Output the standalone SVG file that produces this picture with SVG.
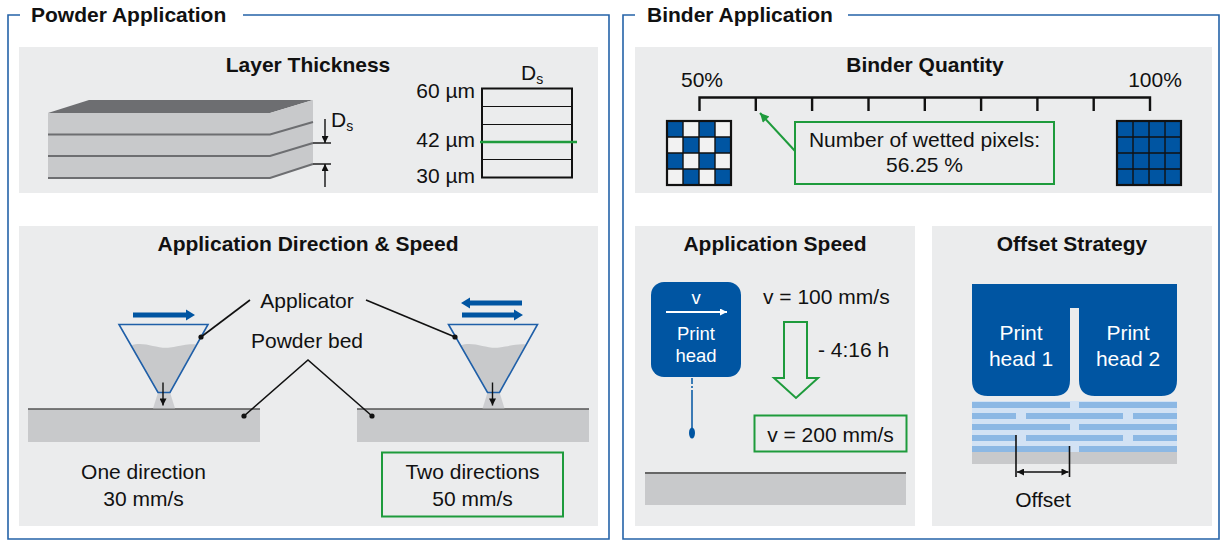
<svg xmlns="http://www.w3.org/2000/svg" width="1223" height="541" viewBox="0 0 1223 541">
  <style>
    text { font-family: "Liberation Sans", Arial, sans-serif; fill: #111; }
    .frame { fill: none; stroke: #2563a8; stroke-width: 1.6; }
    .ftitle { font-size: 21px; font-weight: bold; }
    .ptitle { font-size: 21px; font-weight: bold; text-anchor: middle; }
    .body { font-size: 21px; }
    .mid { text-anchor: middle; }
    .end { text-anchor: end; }
    .panel { fill: #ebeced; }
    .bed { fill: #c8c9cb; }
    .bedline { stroke: #555; stroke-width: 1.6; }
    .green { fill: none; stroke: #1e9b3c; stroke-width: 2; }
    .blue { fill: #0055a2; }
    .leader { stroke: #111; stroke-width: 1.6; fill: none; }
    .dot { fill: #111; }
    .hopper { fill: none; stroke: #1f5fa8; stroke-width: 1.6; }
    .powder { fill: #c8c9cb; }
    .wtext { fill: #fff; text-anchor: middle; }
    .grid { fill: none; stroke: #111; stroke-width: 1.4; }
    .stripe { fill: #8cb8e4; }
  </style>
  <defs>
    <marker id="ah" viewBox="0 0 10 10" refX="10" refY="5" markerWidth="10" markerHeight="7" orient="auto-start-reverse" markerUnits="userSpaceOnUse">
      <path d="M0,0 L10,5 L0,10 z" fill="#111"/>
    </marker>
    <marker id="ahw" viewBox="0 0 10 10" refX="10" refY="5" markerWidth="8" markerHeight="7" orient="auto" markerUnits="userSpaceOnUse">
      <path d="M0,0 L10,5 L0,10 z" fill="#fff"/>
    </marker>
    <marker id="ahg" viewBox="0 0 10 10" refX="10" refY="5" markerWidth="11" markerHeight="9" orient="auto" markerUnits="userSpaceOnUse">
      <path d="M0,0 L10,5 L0,10 z" fill="#1e9b3c"/>
    </marker>
    <!-- hopper with powder, drawn at the origin of its top-left corner -->
    <g id="hopper">
      <path class="powder" d="M12 21 C 25 16, 38 25, 51 23 S 70 19, 77 20 L 51 68 L 39 68 Z"/>
      <path d="M39 68 L 51 68 L 56 84 L 34 84 Z" fill="#c8c9cb" opacity="0.85"/>
      <path class="hopper" d="M0 0 H 89 L 51 68 H 39 Z"/>
      <line x1="44" y1="58" x2="44" y2="81" stroke="#111" stroke-width="1.4" marker-end="url(#ah)"/>
    </g>
  </defs>

  <!-- outer section frames -->
  <g id="powder-application">
    <path class="frame" d="M20 15 H 8 V 539 H 609 V 15 H 243"/>
    <text class="ftitle" x="31" y="22">Powder Application</text>
  </g>
  <g id="binder-application">
    <path class="frame" d="M635 15 H 623 V 539 H 1219 V 15 H 848"/>
    <text class="ftitle" x="647" y="22">Binder Application</text>
  </g>

  <!-- Layer Thickness -->
  <g id="layer-thickness">
    <rect class="panel" x="19" y="47" width="579" height="146"/>
    <text class="ptitle" x="308" y="72">Layer Thickness</text>
    <!-- layered block -->
    <path d="M48 113 L 89 100 H 313 L 270 113 Z" fill="#6d6e71"/>
    <rect x="48" y="113" width="222" height="65" fill="#c8c9cb"/>
    <path d="M270 113 L 313 100 V 164 L 270 178 Z" fill="#c8c9cb"/>
    <g stroke="#6d6e71" stroke-width="2" fill="none">
      <path d="M48 134.5 H 270 L 313 122"/>
      <path d="M48 156 H 270 L 313 143"/>
      <path d="M48 178 H 270 L 313 164"/>
    </g>
    <!-- thickness dimension -->
    <g stroke="#111" stroke-width="1.4">
      <line x1="313" y1="143" x2="331" y2="143"/>
      <line x1="313" y1="164" x2="331" y2="164"/>
      <line x1="325" y1="119" x2="325" y2="143" marker-end="url(#ah)"/>
      <line x1="325" y1="187" x2="325" y2="164" marker-end="url(#ah)"/>
    </g>
    <text class="body" x="331" y="127">D<tspan font-size="14" dy="4">s</tspan></text>
    <!-- thickness scale -->
    <rect x="482" y="88.5" width="90" height="89" fill="none" stroke="#111" stroke-width="2"/>
    <g stroke="#111" stroke-width="1.2">
      <line x1="482" y1="106.5" x2="572" y2="106.5"/>
      <line x1="482" y1="124.5" x2="572" y2="124.5"/>
      <line x1="482" y1="159.5" x2="572" y2="159.5"/>
    </g>
    <line x1="480" y1="142" x2="577" y2="142" stroke="#1e9b3c" stroke-width="2.5"/>
    <text class="body" x="521" y="80">D<tspan font-size="14" dy="4">s</tspan></text>
    <text class="body end" x="475" y="98">60 µm</text>
    <text class="body end" x="475" y="147">42 µm</text>
    <text class="body end" x="475" y="183">30 µm</text>
  </g>

  <!-- Application Direction & Speed -->
  <g id="direction-speed">
    <rect class="panel" x="19" y="226" width="579" height="300"/>
    <text class="ptitle" x="308" y="251">Application Direction &amp; Speed</text>
    <!-- powder beds -->
    <rect class="bed" x="28" y="409" width="232" height="33"/>
    <line class="bedline" x1="28" y1="409" x2="260" y2="409"/>
    <rect class="bed" x="357" y="409" width="232" height="33"/>
    <line class="bedline" x1="357" y1="409" x2="589" y2="409"/>
    <!-- applicators -->
    <use href="#hopper" x="119" y="324.5"/>
    <use href="#hopper" x="448.5" y="324.5"/>
    <!-- travel direction arrows -->
    <path class="blue" d="M133 312.5 H 186 V 309.5 L 195 315 L 186 320.5 V 317.5 H 133 Z"/>
    <path class="blue" d="M522 300.5 H 470 V 297.5 L 461 303 L 470 308.5 V 305.5 H 522 Z"/>
    <path class="blue" d="M462 312.5 H 514 V 309.5 L 523 315 L 514 320.5 V 317.5 H 462 Z"/>
    <!-- labels and leaders -->
    <text class="body mid" x="307" y="308">Applicator</text>
    <text class="body mid" x="307" y="348">Powder bed</text>
    <path class="leader" d="M250 300 L 201 337"/>
    <path class="leader" d="M366 300 L 455 337"/>
    <path class="leader" d="M244 416 L 308 360 L 372 416"/>
    <circle class="dot" cx="201" cy="337" r="2.6"/>
    <circle class="dot" cx="455" cy="337" r="2.6"/>
    <circle class="dot" cx="244" cy="416" r="2.6"/>
    <circle class="dot" cx="372" cy="416" r="2.6"/>
    <text class="body mid" x="143.5" y="479">One direction</text>
    <text class="body mid" x="143.5" y="506">30 mm/s</text>
    <rect class="green" x="382" y="452.5" width="181" height="64"/>
    <text class="body mid" x="472.5" y="479">Two directions</text>
    <text class="body mid" x="472.5" y="506">50 mm/s</text>
  </g>

  <!-- Binder Quantity -->
  <g id="binder-quantity">
    <rect class="panel" x="635" y="47" width="577" height="146"/>
    <text class="ptitle" x="925" y="72">Binder Quantity</text>
    <text class="body mid" x="702" y="87">50%</text>
    <text class="body mid" x="1155" y="87">100%</text>
    <g stroke="#111" stroke-width="2.4" fill="none">
      <path d="M699.5 111 V 97.5 H 1150 V 111"/>
      <path d="M755.8 97.5 V 111 M812.1 97.5 V 111 M868.5 97.5 V 111 M924.8 97.5 V 111 M981.1 97.5 V 111 M1037.4 97.5 V 111 M1093.7 97.5 V 111"/>
    </g>
    <!-- 50 % wetting pattern -->
    <rect x="667" y="121" width="64" height="64" fill="#f2f2f2"/>
    <g class="blue">
      <rect x="667" y="121" width="16" height="16"/>
      <rect x="699" y="121" width="16" height="16"/>
      <rect x="683" y="137" width="16" height="16"/>
      <rect x="715" y="137" width="16" height="16"/>
      <rect x="667" y="153" width="16" height="16"/>
      <rect x="699" y="153" width="16" height="16"/>
      <rect x="683" y="169" width="16" height="16"/>
      <rect x="715" y="169" width="16" height="16"/>
    </g>
    <path class="grid" d="M683 121 V 185 M699 121 V 185 M715 121 V 185 M667 137 H 731 M667 153 H 731 M667 169 H 731"/>
    <rect x="667" y="121" width="64" height="64" fill="none" stroke="#111" stroke-width="2.2"/>
    <!-- 100 % wetting pattern -->
    <rect class="blue" x="1117" y="121" width="64" height="64"/>
    <path class="grid" d="M1133 121 V 185 M1149 121 V 185 M1165 121 V 185 M1117 137 H 1181 M1117 153 H 1181 M1117 169 H 1181"/>
    <rect x="1117" y="121" width="64" height="64" fill="none" stroke="#111" stroke-width="2.2"/>
    <!-- callout -->
    <rect class="green" x="795" y="122" width="259" height="62" fill="#ebeced"/>
    <text class="body mid" x="924.5" y="147">Number of wetted pixels:</text>
    <text class="body mid" x="924.5" y="172">56.25 %</text>
    <line x1="795" y1="151" x2="760" y2="113" stroke="#1e9b3c" stroke-width="2" marker-end="url(#ahg)"/>
  </g>

  <!-- Application Speed -->
  <g id="application-speed">
    <rect class="panel" x="635" y="226" width="280" height="300"/>
    <text class="ptitle" x="775" y="251">Application Speed</text>
    <rect class="blue" x="651" y="282" width="90" height="95" rx="13"/>
    <text class="wtext" x="696" y="304" font-size="18.5">v</text>
    <line x1="666" y1="312" x2="727" y2="312" stroke="#fff" stroke-width="1.8" marker-end="url(#ahw)"/>
    <text class="wtext" x="696" y="340" font-size="18.5">Print</text>
    <text class="wtext" x="696" y="362" font-size="18.5">head</text>
    <line x1="692" y1="378" x2="692" y2="396" stroke="#0055a2" stroke-width="1.5" stroke-dasharray="6 2 2 2"/>
    <line x1="692" y1="396" x2="692" y2="428" stroke="#0055a2" stroke-width="1.5"/>
    <ellipse class="blue" cx="692" cy="433" rx="3" ry="5.5"/>
    <text class="body" x="763" y="304">v = 100 mm/s</text>
    <path class="green" d="M784 322 H 807 V 378 H 818 L 796 398 L 774 378 H 784 Z"/>
    <text class="body" x="818" y="357">- 4:16 h</text>
    <rect class="green" x="754.5" y="415.5" width="152" height="36"/>
    <text class="body mid" x="830.5" y="442">v = 200 mm/s</text>
    <rect class="bed" x="645" y="473" width="261" height="32"/>
    <line x1="645" y1="473" x2="906" y2="473" stroke="#666" stroke-width="2"/>
  </g>

  <!-- Offset Strategy -->
  <g id="offset-strategy">
    <rect class="panel" x="932" y="226" width="280" height="300"/>
    <text class="ptitle" x="1072" y="251">Offset Strategy</text>
    <path class="blue" d="M972 284 H 1177 V 380 Q 1177 396 1161 396 H 1095 Q 1079 396 1079 380 V 308 H 1070 V 380 Q 1070 396 1054 396 H 988 Q 972 396 972 380 Z"/>
    <text class="wtext" x="1021" y="340" font-size="21">Print</text>
    <text class="wtext" x="1021" y="366" font-size="21">head 1</text>
    <text class="wtext" x="1128" y="340" font-size="21">Print</text>
    <text class="wtext" x="1128" y="366" font-size="21">head 2</text>
    <!-- deposited binder lines -->
    <rect x="972" y="401" width="205" height="52" fill="#d2e2f4"/>
    <rect class="bed" x="972" y="452" width="205" height="12"/>
    <g class="stripe">
      <rect x="972" y="402" width="98" height="6"/>
      <rect x="1079" y="402" width="98" height="6"/>
      <rect x="972" y="413" width="44" height="6"/>
      <rect x="1026" y="413" width="97" height="6"/>
      <rect x="1133" y="413" width="44" height="6"/>
      <rect x="972" y="424" width="98" height="6"/>
      <rect x="1079" y="424" width="98" height="6"/>
      <rect x="972" y="435" width="44" height="6"/>
      <rect x="1026" y="435" width="97" height="6"/>
      <rect x="1133" y="435" width="44" height="6"/>
      <rect x="972" y="446" width="98" height="6"/>
      <rect x="1079" y="446" width="98" height="6"/>
    </g>
    <!-- offset dimension -->
    <g stroke="#111" stroke-width="1.6">
      <line x1="1016" y1="435" x2="1016" y2="477"/>
      <line x1="1069.5" y1="446" x2="1069.5" y2="477"/>
      <line x1="1017" y1="472" x2="1068.5" y2="472" marker-start="url(#ah)" marker-end="url(#ah)"/>
    </g>
    <text class="body mid" x="1043" y="507">Offset</text>
  </g>
</svg>
